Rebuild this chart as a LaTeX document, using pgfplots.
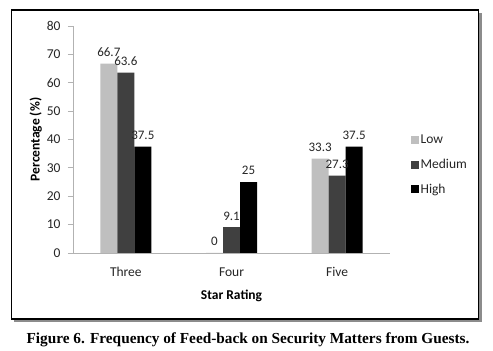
\documentclass[border=0pt]{standalone}
\usepackage{pgfplots}
\pgfplotsset{compat=1.18}
\usepackage{fontspec}
\setmainfont{Carlito}
\newfontfamily\capfont{Liberation Serif}
\definecolor{lowc}{RGB}{191,191,191}
\definecolor{medc}{RGB}{64,64,64}
\definecolor{highc}{RGB}{0,0,0}
\begin{document}
\begin{tikzpicture}[x=1pt,y=1pt]
\path (0,0) rectangle (493,350);
\fill[black!45] (14,28) rectangle (482,337);
\draw[line width=1.3pt,fill=white] (11.5,31) rectangle (478.5,340);
\node[font=\capfont\bfseries\fontsize{15.3}{17}\selectfont] at (248,10) {Figure 6. Frequency of Feed-back on Security Matters from Guests.};
\begin{axis}[
  at={(73pt,97pt)}, anchor=south west,
  scale only axis, width=317pt, height=227pt,
  xmin=-0.5, xmax=2.5, ymin=0, ymax=80,
  ybar=0pt, bar width=17pt,
  xtick={0,1,2}, xticklabels={Three,Four,Five},
  ytick={0,10,...,80},
  axis x line*=bottom, axis y line*=left,
  axis line style={black!30, line width=0.8pt},
  x axis line style={-}, y axis line style={-},
  xtick style={draw=none},
  ytick style={black!30, line width=0.8pt},
  tick align=outside, major tick length=5pt,
  ticklabel style={font=\fontsize{13.5}{15}\selectfont, text=black!85},
  xticklabel style={yshift=-6pt},
  yticklabel style={xshift=-4pt},
  /pgf/number format/assume math mode=true,
  xlabel={\bfseries Star Rating},
  ylabel={\bfseries Percentage (\%)},
  label style={font=\fontsize{13.5}{15}\selectfont},
  xlabel style={yshift=-6pt},
  ylabel style={yshift=-2pt},
  nodes near coords,
  nodes near coords style={font=\fontsize{13}{15}\selectfont, text=black!85, yshift=3.5pt, /pgf/number format/fixed, /pgf/number format/precision=1},
  legend style={at={(1.066,0.388)}, anchor=west, draw=none, inner sep=0pt,
    font=\fontsize{13.5}{15}\selectfont, row sep=10pt, text=black!85,
    nodes={inner xsep=1.5pt}},
  legend cell align=left,
  legend image code/.code={\fill[#1,draw=none] (0pt,-4pt) rectangle (8pt,4pt);},
]
\addplot[fill=lowc,draw=none] coordinates {(0,66.7) (1,0) (2,33.3)};
\addplot[fill=medc,draw=none] coordinates {(0,63.6) (1,9.1) (2,27.3)};
\addplot[fill=highc,draw=none] coordinates {(0,37.5) (1,25) (2,37.5)};
\legend{Low,Medium,High}
\end{axis}
\end{tikzpicture}
\end{document}
